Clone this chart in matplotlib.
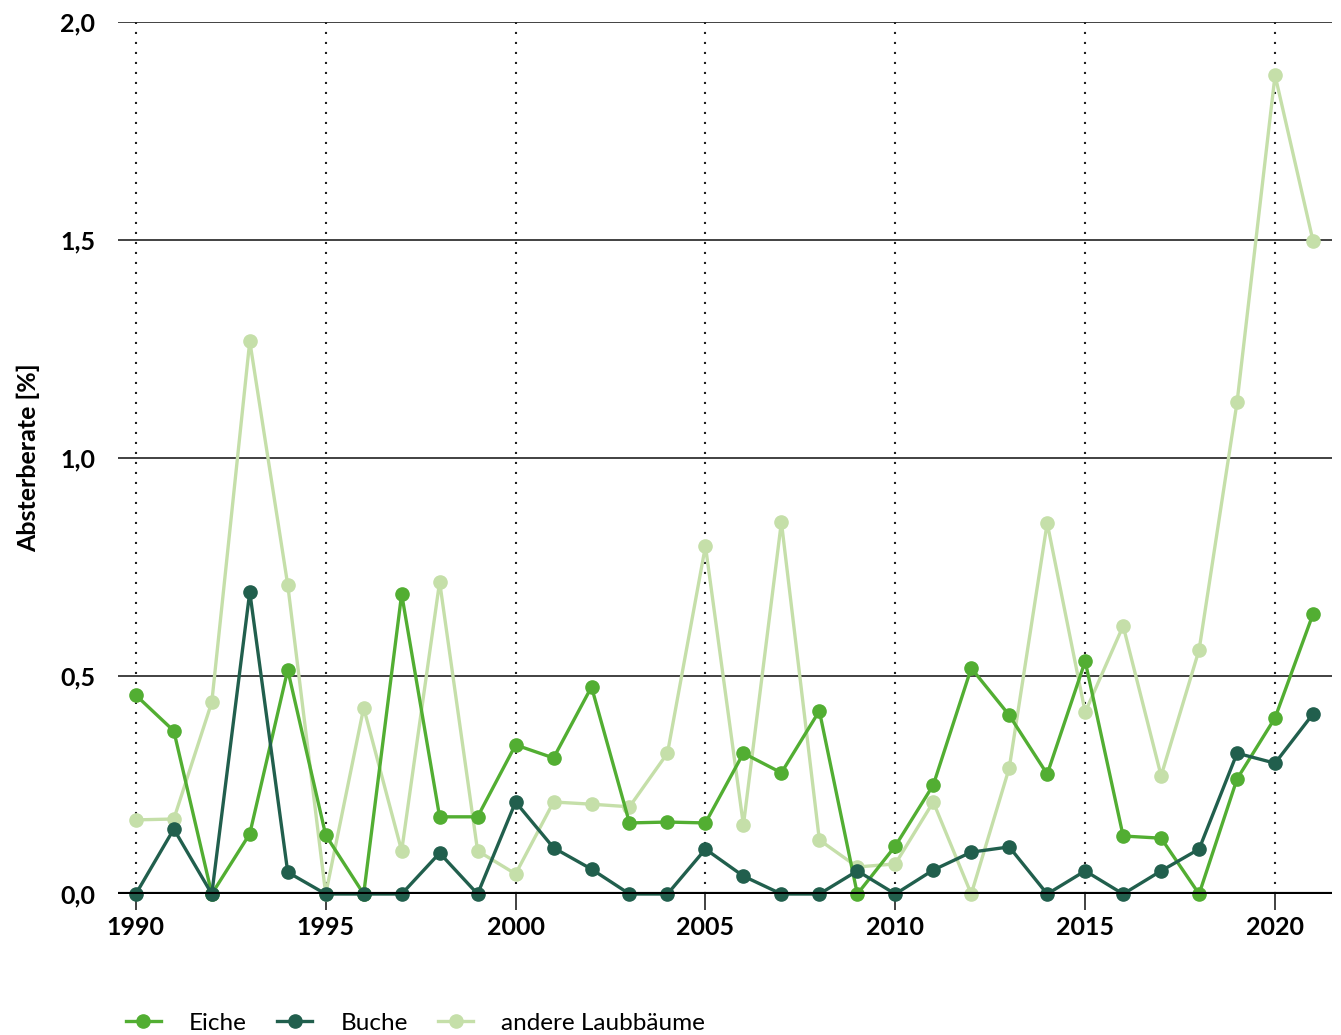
import matplotlib
matplotlib.use("Agg")
import matplotlib.pyplot as plt
from matplotlib.ticker import FixedLocator, FuncFormatter

years = list(range(1990, 2022))
eiche = [0.456, 0.374, 0.0, 0.138, 0.514, 0.135, 0.0, 0.688, 0.177, 0.177,
         0.342, 0.312, 0.475, 0.163, 0.165, 0.163, 0.323, 0.278, 0.420, 0.0,
         0.110, 0.250, 0.518, 0.410, 0.275, 0.534, 0.133, 0.128, 0.0, 0.264,
         0.404, 0.642]
buche = [0.0, 0.149, 0.0, 0.693, 0.050, 0.0, 0.0, 0.0, 0.094, 0.0,
         0.211, 0.106, 0.057, 0.0, 0.0, 0.103, 0.041, 0.0, 0.0, 0.053,
         0.0, 0.055, 0.096, 0.108, 0.0, 0.053, 0.0, 0.053, 0.103, 0.323,
         0.300, 0.413]
andere = [0.170, 0.172, 0.440, 1.268, 0.709, 0.0, 0.427, 0.099, 0.716, 0.099,
          0.046, 0.211, 0.206, 0.200, 0.323, 0.798, 0.158, 0.853, 0.124, 0.062,
          0.069, 0.211, 0.0, 0.289, 0.851, 0.417, 0.615, 0.271, 0.560, 1.128,
          1.878, 1.498]
series_names = ["Eiche", "Buche", "andere Laubbäume"]
colors = ["#52ae32", "#215f4d", "#c5dfa9"]
x_ticks = [1990, 1995, 2000, 2005, 2010, 2015, 2020]
y_ticks = [0.0, 0.5, 1.0, 1.5, 2.0]
y_label = "Absterberate [%]"

plt.rcParams['font.family'] = ['Lato', 'DejaVu Sans']

fig = plt.figure(figsize=(13.41, 10.35), dpi=100)
ax = fig.add_axes([118/1341, 1 - 894/1035, (1332-118)/1341, (894-22)/1035])

for yv in y_ticks[1:]:
    ax.axhline(yv, color="#333333", lw=1.3, zorder=1)
for xv in x_ticks:
    ax.axvline(xv, color="#222222", lw=1.5, ls=(0, (1, 3.8)), zorder=1)

data = [eiche, buche, andere]
order = [2, 0, 1]
handles = {}
for i in order:
    h, = ax.plot(years, data[i], color=colors[i], lw=2.4, marker="o", ms=9.5,
                 label=series_names[i], zorder=3 + (1 if i == 1 else 0), clip_on=False)
    handles[i] = h

ax.axhline(0, color="black", lw=3, zorder=5)

ax.set_xlim(1989.53, 2021.5)
ax.set_ylim(0, 2.0)
for s in ax.spines.values():
    s.set_visible(False)
ax.xaxis.set_major_locator(FixedLocator(x_ticks))
ax.yaxis.set_major_locator(FixedLocator(y_ticks))
ax.yaxis.set_major_formatter(FuncFormatter(lambda v, p: f"{v:.1f}".replace(".", ",")))
ax.tick_params(axis="x", length=11.5, width=1.3, color="#333333", pad=4,
               labelsize=18)
ax.tick_params(axis="y", length=0, pad=16.5, labelsize=18)
for lab in ax.get_xticklabels() + ax.get_yticklabels():
    lab.set_fontweight("bold")
ax.set_ylabel(y_label, fontsize=18, fontweight="bold", labelpad=14)

leg = fig.legend([handles[0], handles[1], handles[2]], series_names,
                 loc="lower left", bbox_to_anchor=(0.0775, -0.02), ncol=3,
                 frameon=False, fontsize=17.5, handlelength=1.45,
                 handletextpad=1.15, columnspacing=1.25)

fig.savefig("out.png", dpi=100)
